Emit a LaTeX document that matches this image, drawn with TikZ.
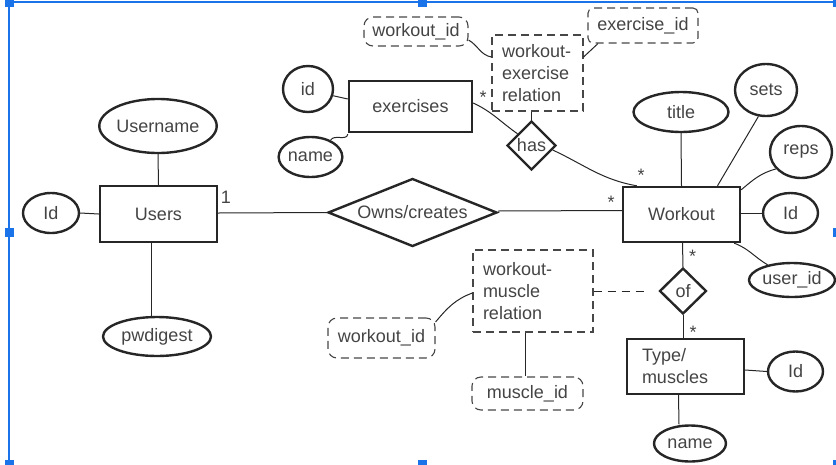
\documentclass[tikz,border=0pt]{standalone}
\usepackage{fontspec}
\setmainfont{Liberation Sans}
\usetikzlibrary{shapes.geometric}
\definecolor{ink}{HTML}{262626}
\definecolor{txt}{HTML}{444444}
\definecolor{selblue}{HTML}{1A73E8}
\tikzset{
  lbl/.style={font=\fontsize{18}{22}\selectfont, text=txt},
  ent/.style={lbl, draw=ink, line width=2.4pt, rectangle, inner sep=0pt},
  attr/.style={lbl, draw=ink, line width=2.4pt, ellipse, inner sep=0pt},
  rel/.style={lbl, draw=ink, line width=2.4pt, diamond, inner sep=0pt, aspect=1},
  dbox/.style={lbl, draw=ink!85, line width=1.1pt, dash pattern=on 8pt off 5pt, rectangle, rounded corners=9pt, inner sep=0pt},
  rbox/.style={lbl, draw=ink!85, line width=1.1pt, dash pattern=on 8pt off 5pt, rectangle, inner ysep=0pt, align=left},
  conn/.style={draw=ink, line width=1pt},
  card/.style={lbl, inner sep=0pt},
  selsq/.style={fill=selblue, draw=none, rectangle, minimum size=9pt, inner sep=0pt},
}
\begin{document}
\begin{tikzpicture}[x=1pt, y=-1pt]
\useasboundingbox (0,0) rectangle (836,464);
% selection frame
\draw[selblue, line width=1.2pt] (9,464) -- (9,2) -- (837,2);
\foreach \px/\py [count=\i] in {9/2, 422/2, 837/2, 9/232, 837/232, 9/464, 422/464, 837/464}
  \node[selsq] (sq\i) at (\px,\py) {};

% Users
\node[ent, minimum width=117pt, minimum height=56pt] (users) at (158.5,214) {Users};
\node[attr, minimum width=114pt, minimum height=54pt] (username) at (158,126) {Username};
\node[attr, minimum width=56pt, minimum height=40pt] (idl) at (51,213) {Id};
\node[attr, minimum width=108pt, minimum height=39pt] (pwd) at (157,336.5) {pwdigest};
\draw[conn] (username.south) -- (users.north);
\draw[conn] (idl.east) -- (users.west);
\draw[conn] ([xshift=-7.5pt]users.south) -- ([xshift=-6pt]pwd.north);

% Owns/creates
\node[rel, aspect=2.5, minimum width=169pt, minimum height=68pt] (owns) at (412.5,212.5) {Owns/creates};
\draw[conn] ([yshift=1pt]users.east) -- (owns.west);
\node[card] (c1) at (226,197) {1};

% Workout
\node[ent, minimum width=117pt, minimum height=55pt] (workout) at (681.5,214.5) {Workout};
\draw[conn] ([yshift=1.5pt]owns.east) -- ([yshift=4pt]workout.west);
\node[card] (c2) at (611,202) {*};
\node[attr, minimum width=95pt, minimum height=40pt] (title) at (681,112) {title};
\node[attr, minimum width=62pt, minimum height=52pt] (sets) at (766,90) {sets};
\node[attr, minimum width=62pt, minimum height=52pt] (reps) at (801,152) {reps};
\node[attr, minimum width=55pt, minimum height=40pt] (idr) at (790.5,213) {Id};
\node[attr, minimum width=86pt, minimum height=34pt] (uid) at (792,280) {user\_id};
\draw[conn] (title.south) -- (workout.north);
\draw[conn] (sets.254) -- ([xshift=36pt]workout.north);
\draw[conn] (reps.214) to[out=195, in=40] ([yshift=-4pt]workout.north east);
\draw[conn] ([yshift=1.5pt]workout.east) -- (idr.west);
\draw[conn] ([xshift=-7pt]workout.south east) to[out=-20, in=150] (uid.148);

% of / Type
\node[rel, minimum width=47pt, minimum height=46pt] (of) at (683,291) {of};
\draw[conn] ([xshift=1pt]workout.south) -- (of.north);
\node[card] (c3) at (692.5,256) {*};
\node[ent, minimum width=117pt, minimum height=55pt, text width=87pt, inner xsep=15pt, align=left] (type) at (685.5,366.5) {Type/\\muscles};
\draw[conn] (of.south) -- (of.south |- type.north);
\node[card] (c4) at (693,332) {*};
\node[attr, minimum width=55pt, minimum height=40pt] (tid) at (795.5,371.5) {Id};
\node[attr, minimum width=72pt, minimum height=36pt] (tname) at (690,443.5) {name};
\draw[conn] ([yshift=-3.5pt]type.east) -- (tid.west);
\draw[conn] ([xshift=-7pt]type.south) -- ([xshift=-11pt]tname.north);

% workout-muscle relation
\node[rbox, minimum width=120pt, minimum height=82pt, text width=100pt, inner xsep=10pt] (wmr) at (533,291) {workout-\\muscle\\relation};
\node[dbox, minimum width=107pt, minimum height=40pt] (wid2) at (381.5,338) {workout\_id};
\node[dbox, minimum width=111pt, minimum height=33pt] (mid) at (527.5,393.5) {muscle\_id};
\draw[conn, dash pattern=on 8pt off 6pt, shorten >=14pt] (wmr.east) -- (of.west);
\draw[conn] ([yshift=16pt]wid2.east) to[out=50, in=-160] ([yshift=-2pt]wmr.west);
\draw[conn] ([xshift=-8pt]wmr.south) -- ([xshift=-8pt]wmr.south |- mid.north);

% exercises
\node[ent, minimum width=123pt, minimum height=51pt] (exercises) at (410.5,106.5) {exercises};
\node[attr, minimum width=50pt, minimum height=46pt] (eid) at (308,89) {id};
\node[attr, minimum width=62pt, minimum height=40pt] (ename) at (310.5,157) {name};
\draw[conn] (eid.-15) -- ([yshift=7.5pt]exercises.west);
\draw[conn] (ename.40) to[out=60, in=-100] ([yshift=-1pt]exercises.south west);
\node[card] (c5) at (483,97) {*};

% has
\node[rel, minimum width=49pt, minimum height=49pt] (has) at (531.5,145.5) {has};
\draw[conn] ([yshift=3.5pt]exercises.east) to[out=-25, in=145] (has.140);
\draw[conn] (has.-12) to[out=-25, in=170] ([xshift=15pt]workout.north west);
\node[card] (c6) at (641,175) {*};

% workout-exercise relation
\node[rbox, minimum width=91pt, minimum height=76pt, text width=71pt, inner xsep=10pt] (wer) at (537.5,73) {workout-\\exercise\\relation};
\node[dbox, minimum width=104pt, minimum height=29pt] (wid1) at (416,31.5) {workout\_id};
\node[dbox, minimum width=110pt, minimum height=35pt, rounded corners=5pt] (exid) at (643,25.5) {exercise\_id};
\draw[conn] (has.north) -- (has.north |- wer.south);
\draw[conn] ([yshift=-8.5pt]wid1.east) to[out=-30, in=170] ([yshift=16pt]wer.west);
\draw[conn] ([xshift=-45pt]exid.south) -- ([yshift=16pt]wer.east);
\end{tikzpicture}
\end{document}
